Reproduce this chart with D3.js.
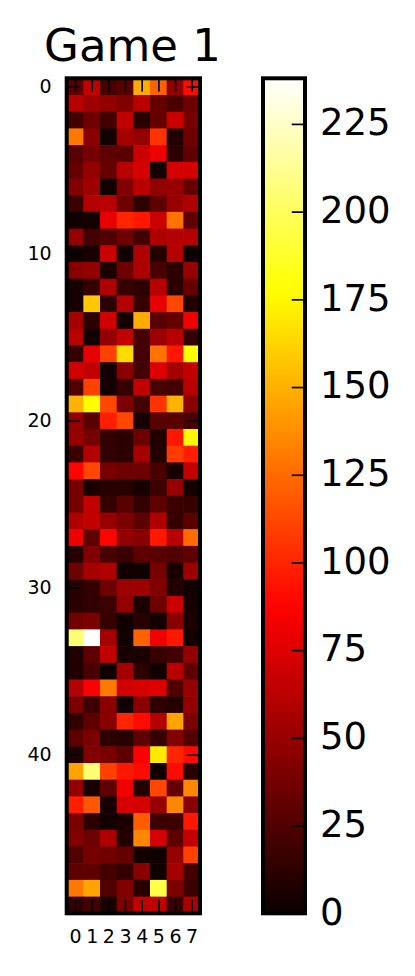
<!DOCTYPE html>
<html>
  <head>
    <meta charset="utf-8">
    <title>Game 1</title>
    <script src="https://d3js.org/d3.v7.min.js"></script>
    <style>
      html, body { margin: 0; background: #fff; }
      svg { display: block; font-family: "DejaVu Sans", sans-serif; }
    </style>
  </head>
  <body>
    <div id="chart"></div>
    <script>
      const title = "Game 1";
      const columns = [0, 1, 2, 3, 4, 5, 6, 7];
      const rowTicks = [0, 10, 20, 30, 40];
      const barTicks = [0, 25, 50, 75, 100, 125, 150, 175, 200, 225];
      const valueMax = 238;

      // values, one line per row
      const cells = [
        [30, 65, 22, 28, 148, 122, 48, 90],
        [62, 52, 48, 42, 62, 32, 22, 35],
        [20, 35, 20, 65, 10, 32, 68, 38],
        [130, 45, 3, 55, 48, 105, 8, 35],
        [28, 38, 30, 28, 68, 80, 12, 30],
        [32, 48, 32, 62, 72, 3, 72, 72],
        [42, 52, 3, 42, 62, 48, 50, 32],
        [18, 60, 62, 35, 12, 30, 50, 58],
        [2, 3, 78, 100, 95, 68, 128, 30],
        [48, 20, 25, 35, 20, 58, 60, 60],
        [2, 5, 68, 3, 58, 8, 60, 2],
        [45, 48, 6, 35, 58, 22, 12, 50],
        [5, 15, 58, 15, 12, 62, 12, 32],
        [4, 158, 12, 60, 15, 78, 112, 8],
        [55, 12, 70, 3, 148, 28, 32, 82],
        [62, 3, 48, 65, 20, 52, 62, 14],
        [15, 78, 110, 165, 20, 128, 95, 178],
        [70, 65, 3, 45, 20, 75, 55, 65],
        [25, 110, 3, 15, 65, 22, 20, 62],
        [150, 178, 112, 40, 20, 105, 150, 45],
        [48, 28, 98, 112, 5, 28, 28, 22],
        [50, 38, 14, 12, 35, 8, 95, 175],
        [18, 60, 14, 12, 55, 8, 108, 98],
        [88, 112, 38, 35, 35, 22, 5, 65],
        [38, 5, 10, 10, 5, 18, 50, 3],
        [38, 65, 15, 28, 14, 30, 18, 15],
        [58, 65, 50, 40, 30, 58, 15, 28],
        [80, 30, 88, 48, 45, 95, 62, 125],
        [10, 42, 22, 16, 30, 28, 25, 30],
        [35, 55, 58, 2, 2, 38, 5, 52],
        [10, 14, 35, 52, 52, 42, 8, 3],
        [12, 14, 18, 48, 6, 35, 68, 4],
        [36, 40, 15, 2, 10, 3, 45, 6],
        [205, 238, 55, 3, 122, 82, 95, 3],
        [8, 30, 65, 5, 6, 16, 20, 48],
        [8, 22, 2, 55, 12, 2, 62, 30],
        [60, 85, 130, 70, 72, 75, 25, 50],
        [40, 18, 45, 2, 45, 12, 10, 48],
        [14, 30, 45, 100, 90, 60, 145, 40],
        [30, 40, 12, 10, 30, 15, 42, 25],
        [8, 42, 38, 30, 85, 170, 100, 90],
        [145, 205, 110, 95, 90, 2, 90, 10],
        [48, 5, 30, 82, 8, 112, 32, 135],
        [98, 118, 5, 72, 72, 50, 135, 45],
        [40, 12, 3, 6, 120, 18, 18, 95],
        [42, 35, 58, 8, 135, 72, 30, 65],
        [25, 38, 36, 32, 3, 2, 50, 110],
        [30, 30, 20, 14, 45, 2, 55, 20],
        [130, 145, 25, 42, 10, 195, 40, 18],
        [14, 20, 6, 40, 65, 65, 16, 58]
      ];

      const width = 415;
      const height = 976;
      const frame = {left: 66.7, right: 200, top: 78.3, bottom: 913.3};
      const bar = {left: 263, right: 305};
      const tickLen = 13.3;

      // matplotlib "hot" colormap
      const hotChannel = (t, a, b) => Math.max(0, Math.min(1, (t - a) / (b - a)));
      const hot = t => d3.rgb(
        255 * (0.0416 + (1 - 0.0416) * hotChannel(t, 0, 0.365)),
        255 * hotChannel(t, 0.365, 0.746),
        255 * hotChannel(t, 0.746, 1)
      ).formatHex();
      const color = v => hot(v / valueMax);

      const x = d3.scaleLinear().domain([-0.5, 7.5]).range([frame.left, frame.right]);
      const y = d3.scaleLinear().domain([-0.5, 49.5]).range([frame.top, frame.bottom]);
      const barY = d3.scaleLinear().domain([0, valueMax]).range([frame.bottom, frame.top]);

      const svg = d3.select("#chart").append("svg")
        .attr("width", width)
        .attr("height", height);

      svg.append("text")
        .attr("x", 132.5)
        .attr("y", 60.7)
        .attr("text-anchor", "middle")
        .attr("font-size", 45)
        .attr("fill", "#000")
        .text(title);

      // heatmap cells, a bit oversized so no seams show between them
      svg.append("g").selectAll("g")
        .data(cells)
        .join("g")
        .selectAll("rect")
        .data((row, i) => row.map((v, j) => ({i, j, v})))
        .join("rect")
        .attr("x", d => x(d.j - 0.5))
        .attr("y", d => y(d.i - 0.5))
        .attr("width", x(1) - x(0) + 0.6)
        .attr("height", y(1) - y(0) + 0.6)
        .attr("fill", d => color(d.v));

      const styleAxis = (g, size) => {
        g.select(".domain").remove();
        g.selectAll(".tick line").attr("stroke", "#000").attr("stroke-width", 1.7);
        g.selectAll(".tick text").attr("font-family", '"DejaVu Sans", sans-serif')
          .attr("font-size", size).attr("fill", "#000");
      };

      svg.append("g")
        .attr("transform", `translate(0,${frame.bottom})`)
        .call(d3.axisBottom(x).tickValues(columns).tickSize(-tickLen).tickPadding(16).tickFormat(d3.format("d")))
        .call(styleAxis, 19);
      svg.append("g")
        .attr("transform", `translate(0,${frame.top})`)
        .call(d3.axisTop(x).tickValues(columns).tickSize(-tickLen).tickFormat(""))
        .call(styleAxis, 19);
      svg.append("g")
        .attr("transform", `translate(${frame.left},0)`)
        .call(d3.axisLeft(y).tickValues(rowTicks).tickSize(-tickLen).tickPadding(15).tickFormat(d3.format("d")))
        .call(styleAxis, 19);
      svg.append("g")
        .attr("transform", `translate(${frame.right},0)`)
        .call(d3.axisRight(y).tickValues(rowTicks).tickSize(-tickLen).tickFormat(""))
        .call(styleAxis, 19);

      svg.append("rect")
        .attr("x", frame.left)
        .attr("y", frame.top)
        .attr("width", frame.right - frame.left)
        .attr("height", frame.bottom - frame.top)
        .attr("fill", "none")
        .attr("stroke", "#000")
        .attr("stroke-width", 4);

      // colorbar
      const gradient = svg.append("defs").append("linearGradient")
        .attr("id", "bar-gradient")
        .attr("x1", 0).attr("y1", 1).attr("x2", 0).attr("y2", 0);
      gradient.selectAll("stop")
        .data(d3.range(0, 1.001, 0.02))
        .join("stop")
        .attr("offset", d => d)
        .attr("stop-color", d => hot(d));

      svg.append("rect")
        .attr("x", bar.left)
        .attr("y", frame.top)
        .attr("width", bar.right - bar.left)
        .attr("height", frame.bottom - frame.top)
        .attr("fill", "url(#bar-gradient)");

      svg.append("g")
        .attr("transform", `translate(${bar.right},0)`)
        .call(d3.axisRight(barY).tickValues(barTicks).tickSize(-tickLen).tickPadding(15).tickFormat(d3.format("d")))
        .call(styleAxis, 37)
        .call(g => g.selectAll(".tick text").attr("dy", "0.29em"));

      svg.append("rect")
        .attr("x", bar.left)
        .attr("y", frame.top)
        .attr("width", bar.right - bar.left)
        .attr("height", frame.bottom - frame.top)
        .attr("fill", "none")
        .attr("stroke", "#000")
        .attr("stroke-width", 4);
    </script>
  </body>
</html>
